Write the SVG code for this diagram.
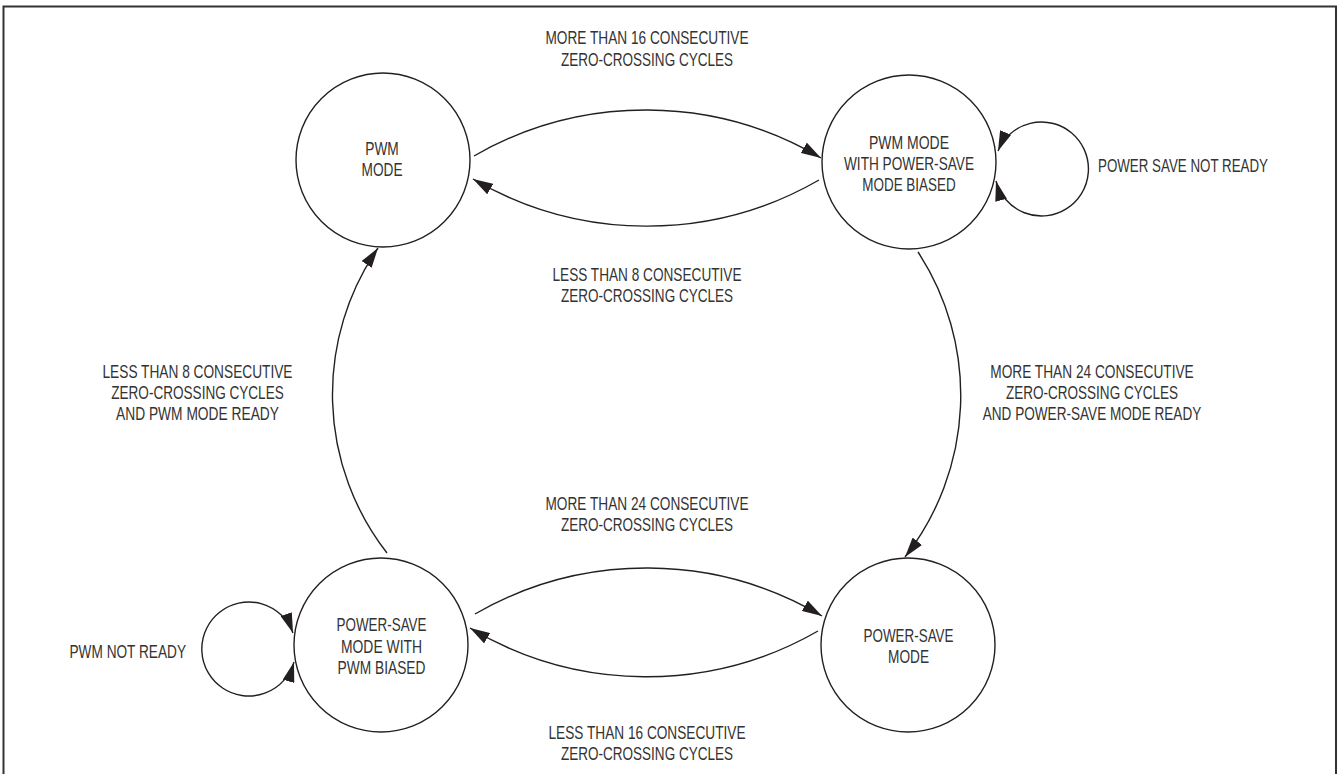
<svg xmlns="http://www.w3.org/2000/svg" width="1338" height="774" viewBox="0 0 1338 774">
<style>
text{font-family:"Liberation Sans",Arial,sans-serif;font-size:18.5px;fill:#333;}
.m{text-anchor:middle;}
.node{fill:#fff;stroke:#231f20;stroke-width:1.4;}
.edge{fill:none;stroke:#231f20;stroke-width:1.4;}
.border{fill:none;stroke:#333;stroke-width:2;}
</style>
<defs>
<marker id="arr" viewBox="0 0 20 12" refX="20" refY="6" markerWidth="20" markerHeight="12" markerUnits="userSpaceOnUse" orient="auto-start-reverse">
<path d="M0,0 L20,6 L0,12 z" fill="#231f20"/>
</marker>
</defs>
<rect class="border" x="3.5" y="6.5" width="1332.5" height="790"/>

<g id="connectors">
<path class="edge" d="M474,156 A344 344 0 0 1 821,158" marker-end="url(#arr)"/>
<path class="edge" d="M819,180 A344 344 0 0 1 473,179" marker-end="url(#arr)"/>
<path class="edge" d="M387,553 A258 258 0 0 1 378,248" marker-end="url(#arr)"/>
<path class="edge" d="M918,252 A262 262 0 0 1 905,557" marker-end="url(#arr)"/>
<path class="edge" d="M475,614 A344 344 0 0 1 822,616" marker-end="url(#arr)"/>
<path class="edge" d="M818,631 A344 344 0 0 1 470,628" marker-end="url(#arr)"/>
<path class="edge" d="M998,151 A47 47 0 1 1 996,181" marker-start="url(#arr)" marker-end="url(#arr)"/>
<path class="edge" d="M293,633 A47 47 0 1 0 294,662" marker-start="url(#arr)" marker-end="url(#arr)"/>
</g>

<g id="labels">
<text class="m" x="647" y="44" textLength="203" lengthAdjust="spacingAndGlyphs">MORE THAN 16 CONSECUTIVE</text>
<text class="m" x="647" y="65.5" textLength="172" lengthAdjust="spacingAndGlyphs">ZERO-CROSSING CYCLES</text>
<text class="m" x="647" y="281" textLength="189" lengthAdjust="spacingAndGlyphs">LESS THAN 8 CONSECUTIVE</text>
<text class="m" x="647" y="302" textLength="172" lengthAdjust="spacingAndGlyphs">ZERO-CROSSING CYCLES</text>
<text x="1098" y="171.5" textLength="170" lengthAdjust="spacingAndGlyphs">POWER SAVE NOT READY</text>
<text class="m" x="197.5" y="377.5" textLength="190" lengthAdjust="spacingAndGlyphs">LESS THAN 8 CONSECUTIVE</text>
<text class="m" x="197.5" y="398.5" textLength="172.5" lengthAdjust="spacingAndGlyphs">ZERO-CROSSING CYCLES</text>
<text class="m" x="197.5" y="419.5" textLength="163" lengthAdjust="spacingAndGlyphs">AND PWM MODE READY</text>
<text class="m" x="1092" y="377.5" textLength="203.5" lengthAdjust="spacingAndGlyphs">MORE THAN 24 CONSECUTIVE</text>
<text class="m" x="1092" y="398.5" textLength="172" lengthAdjust="spacingAndGlyphs">ZERO-CROSSING CYCLES</text>
<text class="m" x="1092" y="419.5" textLength="218.5" lengthAdjust="spacingAndGlyphs">AND POWER-SAVE MODE READY</text>
<text class="m" x="647" y="510" textLength="203" lengthAdjust="spacingAndGlyphs">MORE THAN 24 CONSECUTIVE</text>
<text class="m" x="647" y="531" textLength="172" lengthAdjust="spacingAndGlyphs">ZERO-CROSSING CYCLES</text>
<text class="m" x="647" y="738.5" textLength="197" lengthAdjust="spacingAndGlyphs">LESS THAN 16 CONSECUTIVE</text>
<text class="m" x="647" y="759.5" textLength="172" lengthAdjust="spacingAndGlyphs">ZERO-CROSSING CYCLES</text>
<text x="69.5" y="657.5" textLength="116.5" lengthAdjust="spacingAndGlyphs">PWM NOT READY</text>
</g>

<g id="node-pwm">
<circle class="node" cx="383" cy="160" r="87"/>
<text class="m" x="382" y="155" textLength="33.5" lengthAdjust="spacingAndGlyphs">PWM</text>
<text class="m" x="382" y="176" textLength="41" lengthAdjust="spacingAndGlyphs">MODE</text>
</g>

<g id="node-pwm-ps-biased">
<circle class="node" cx="909" cy="162" r="87"/>
<text class="m" x="909" y="149" textLength="80" lengthAdjust="spacingAndGlyphs">PWM MODE</text>
<text class="m" x="909" y="170" textLength="130" lengthAdjust="spacingAndGlyphs">WITH POWER-SAVE</text>
<text class="m" x="909" y="191" textLength="93.5" lengthAdjust="spacingAndGlyphs">MODE BIASED</text>
</g>

<g id="node-ps-pwm-biased">
<circle class="node" cx="381" cy="645" r="87"/>
<text class="m" x="381.5" y="631" textLength="90" lengthAdjust="spacingAndGlyphs">POWER-SAVE</text>
<text class="m" x="381.5" y="652.5" textLength="81" lengthAdjust="spacingAndGlyphs">MODE WITH</text>
<text class="m" x="381.5" y="673.5" textLength="88" lengthAdjust="spacingAndGlyphs">PWM BIASED</text>
</g>

<g id="node-ps">
<circle class="node" cx="908" cy="645" r="87"/>
<text class="m" x="908.5" y="641.5" textLength="90" lengthAdjust="spacingAndGlyphs">POWER-SAVE</text>
<text class="m" x="908.5" y="662.5" textLength="41" lengthAdjust="spacingAndGlyphs">MODE</text>
</g>
</svg>
